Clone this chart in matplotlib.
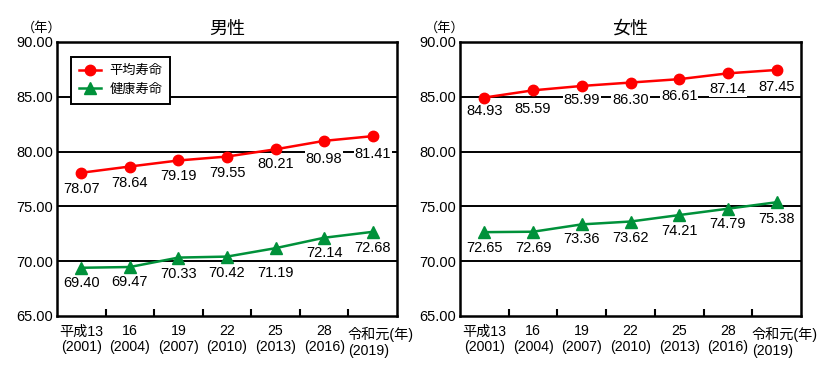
import matplotlib
matplotlib.use("Agg")
import matplotlib.pyplot as plt
from matplotlib.ticker import FixedLocator, NullFormatter

plt.rcParams['font.family'] = ['Liberation Sans', 'Noto Sans CJK JP']

categories = ["平成13\n(2001)", "16\n(2004)", "19\n(2007)", "22\n(2010)",
              "25\n(2013)", "28\n(2016)", "令和元(年)\n(2019)"]
male_avg = [78.07, 78.64, 79.19, 79.55, 80.21, 80.98, 81.41]
male_health = [69.40, 69.47, 70.33, 70.42, 71.19, 72.14, 72.68]
female_avg = [84.93, 85.59, 85.99, 86.30, 86.61, 87.14, 87.45]
female_health = [72.65, 72.69, 73.36, 73.62, 74.21, 74.79, 75.38]
yticks = [65, 70, 75, 80, 85, 90]
series_names = ["平均寿命", "健康寿命"]
titles = ["男性", "女性"]

# label offsets below points (pixels)
male_avg_off = [16, 16, 16, 16, 15, 18, 18]
male_health_off = [15, 15, 16, 16, 25, 15, 16]
female_avg_off = [13, 19, 14, 17, 17, 16, 17]
female_health_off = [16, 16, 15, 16, 16, 15, 17]

RED = "#ff0000"
GREEN = "#00913a"
PX = 72 / 100

fig = plt.figure(figsize=(8.25, 3.68), dpi=100)
ax1 = fig.add_axes([57/825, 1-316/368, 340/825, 274/368])
ax2 = fig.add_axes([460/825, 1-316/368, 341/825, 274/368])

panels = [(ax1, male_avg, male_health, male_avg_off, male_health_off, titles[0]),
          (ax2, female_avg, female_health, female_avg_off, female_health_off, titles[1])]

for ax, avg, health, aoff, hoff, title in panels:
    x = list(range(len(categories)))
    ax.set_xlim(-0.5, len(categories) - 0.5)
    ax.set_ylim(65, 90)
    for yv in yticks[1:-1]:
        ax.axhline(yv, color="black", lw=1.4, zorder=1)
    l1, = ax.plot(x, avg, color=RED, lw=1.8, marker="o", ms=7.5, zorder=4, label=series_names[0])
    l2, = ax.plot(x, health, color=GREEN, lw=1.8, marker="^", ms=8, zorder=4, label=series_names[1])
    for vals, offs in [(avg, aoff), (health, hoff)]:
        for xi, v, o in zip(x, vals, offs):
            ax.annotate(f"{v:.2f}", (xi, v), xytext=(0, -o * PX), textcoords="offset points",
                        ha="center", va="center", fontsize=10.5, zorder=3,
                        bbox=dict(boxstyle="square,pad=0.05", fc="white", ec="none"))
    ax.set_yticks(yticks)
    ax.set_yticklabels([f"{t:.2f}" for t in yticks], fontsize=10.5)
    ax.set_xticks(x)
    ax.set_xticklabels(categories[:-1] + [""], fontsize=10.2, linespacing=1.15)
    ax.annotate(categories[-1], xy=(x[-1], 0), xycoords=("data", "axes fraction"),
                xytext=(8 * PX, -7.8), textcoords="offset points",
                ha="center", va="top", multialignment="left",
                fontsize=10.2, linespacing=1.15, annotation_clip=False)
    ax.xaxis.set_minor_locator(FixedLocator([i + 0.5 for i in range(len(categories) - 1)]))
    ax.xaxis.set_minor_formatter(NullFormatter())
    ax.tick_params(axis="x", which="major", length=0, pad=6)
    ax.tick_params(axis="x", which="minor", direction="in", length=5, width=1.5)
    ax.tick_params(axis="y", length=0, pad=3)
    for s in ax.spines.values():
        s.set_linewidth(1.8)
        s.set_color("black")
    ax.set_title(title, fontsize=13, pad=6)
    ax.text(-0.045, 1.025, "（年）", transform=ax.transAxes, fontsize=9.5, ha="center", va="bottom")

leg = ax1.legend(handles=[l1, l2], loc="upper left", bbox_to_anchor=(0.041, 0.945),
                 borderaxespad=0, fancybox=False, edgecolor="black", framealpha=1,
                 fontsize=9.5, handlelength=1.7, handletextpad=0.6,
                 borderpad=0.6, labelspacing=0.5)
leg.get_frame().set_linewidth(1.4)

fig.savefig("out.png", dpi=100)
